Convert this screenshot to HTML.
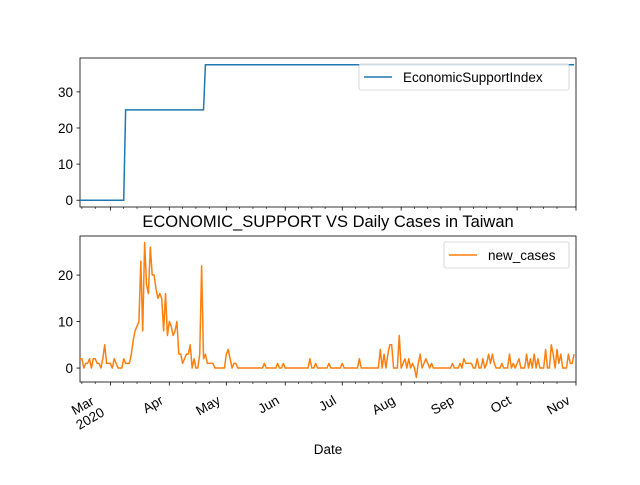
<!DOCTYPE html>
<html><head><meta charset="utf-8"><style>
body{margin:0;background:#fff}
svg text{font-family:"Liberation Sans","DejaVu Sans",sans-serif;fill:#000}
</style></head><body>
<svg id="chart" width="640" height="480" xmlns="http://www.w3.org/2000/svg"></svg>
<script>
const econValues = [[0,0],[23,0],[24,25],[65,25],[66,37.5],[260,37.5]];
const newCases = [2,2,0,1,1,2,0,2,2,1, 1,0,2,5,1,1,1,0,2,1, 0,0,0,2,1,1,1,3,6,8,
9,10,23,8,27,18,16,26,20,20, 17,15,16,15,8,16,7,10,9,7, 8,10,3,3,1,2,3,3,5,0,
2,0,0,3,22,2,3,1,1,1, 1,0,0,0,0,0,0,3,4,2, 0,1,1,0,0,0,0,0,0,0,
0,0,0,0,0,0,0,1,0,0, 0,0,0,0,1,0,0,1,0,0, 0,0,0,0,0,0,0,0,0,0,
0,2,0,0,1,0,0,0,0,0, 0,1,0,0,0,0,0,0,1,0, 0,0,0,0,0,0,0,2,0,0,
0,0,0,0,0,0,0,0,4,0, 3,0,3,5,5,0,0,0,7,0, 1,2,0,2,0,1,0,-2,1,3,
0,1,2,1,0,1,0,0,0,0, 0,0,0,0,0,0,1,0,0,0, 1,0,2,1,1,1,1,0,0,2,
0,0,2,0,1,3,1,3,1,0, 0,0,1,0,0,0,3,0,1,0, 1,2,0,0,0,3,0,2,0,3,
0,2,0,0,0,4,0,0,5,3, 0,4,1,3,0,0,0,3,1,1, 3];
const monthLabels = ["Mar","Apr","May","Jun","Jul","Aug","Sep","Oct","Nov"];
const monthDays = [16,47,77,108,138,169,200,230,261];
const topTicks = [0,10,20,30];
const botTicks = [0,10,20];

const svg = document.getElementById('chart');
const NS = 'http://www.w3.org/2000/svg';
const L=80,R=576,nDays=261;
const x = d => L + d*(R-L)/nDays;
const yTop = v => 207 - (v+1.875)*(149/41.25);
const yBot = v => 382 - (v+3.0)*(146/31.4);
function mk(t,a,p){const e=document.createElementNS(NS,t);for(const k in a)e.setAttribute(k,a[k]);(p||svg).appendChild(e);return e;}

const fTop = mk('rect',{x:L,y:58,width:R-L,height:149,fill:'none',stroke:'#000','stroke-width':0.8});


const fBot = mk('rect',{x:L,y:236,width:R-L,height:146,fill:'none',stroke:'#000','stroke-width':0.8});



topTicks.forEach(v=>{
  mk('line',{x1:L-3.5,x2:L,y1:yTop(v),y2:yTop(v),stroke:'#000','stroke-width':0.8});
  const t=mk('text',{x:L-7,y:yTop(v)+5,'text-anchor':'end','font-size':13.5});t.textContent=v;
  
  
});
botTicks.forEach(v=>{
  mk('line',{x1:L-3.5,x2:L,y1:yBot(v),y2:yBot(v),stroke:'#000','stroke-width':0.8});
  const t=mk('text',{x:L-7,y:yBot(v)+5,'text-anchor':'end','font-size':13.5});t.textContent=v;
  
  
});
// minor ticks on days 8,15,22 of each month
const allStarts=[-13].concat(monthDays);
allStarts.forEach(s=>[7,14,21].forEach(o=>{
  const d=s+o; if(d<0||d>nDays) return;
  [207,382].forEach(yb=>mk('line',{x1:x(d),x2:x(d),y1:yb,y2:yb+2,stroke:'#000','stroke-width':0.6}));
}));
monthDays.forEach((d,i)=>{
  [207,382].forEach(yb=>mk('line',{x1:x(d),x2:x(d),y1:yb,y2:yb+3.5,stroke:'#000','stroke-width':0.8}));
  if(i===0){
    const g=mk('g',{transform:`translate(${x(d)-5},${415}) rotate(-30)`});
    const t=mk('text',{x:-15,y:-15,'text-anchor':'middle','font-size':13.5},g);t.textContent=monthLabels[i];
    
    
    const t2=mk('text',{x:-15,y:0,'text-anchor':'middle','font-size':13.5},g);t2.textContent='2020';
    
    
  } else {
    const g=mk('g',{transform:`translate(${x(d)-5},${403}) rotate(-30)`});
    const t=mk('text',{x:0,y:0,'text-anchor':'end','font-size':13.5},g);t.textContent=monthLabels[i];
    
    
  }
});

const p1=mk('polyline',{points:econValues.map(p=>x(p[0])+','+yTop(p[1])).join(' '),fill:'none',stroke:'#1f77b4','stroke-width':1.5});


const p2=mk('polyline',{points:newCases.map((v,i)=>x(i)+','+yBot(v)).join(' '),fill:'none',stroke:'#ff7f0e','stroke-width':1.5,'stroke-linejoin':'round'});



function legend(x0,y0,w,color,label,name){
  const g=mk('g',{});
  
  
  mk('rect',{x:x0,y:y0,width:w,height:26,rx:2,fill:'#fff','fill-opacity':0.8,stroke:'#ccc','stroke-width':0.8},g);
  mk('line',{x1:x0+5,x2:x0+33,y1:y0+13,y2:y0+13,stroke:color,'stroke-width':1.5},g);
  const t=mk('text',{x:x0+44,y:y0+18,'font-size':13.5},g);t.textContent=label;
}
legend(359,64,210,'#1f77b4','EconomicSupportIndex','legend-economic-support');
legend(444,242,125,'#ff7f0e','new_cases','legend-new-cases');

const ti=mk('text',{x:328,y:227,'text-anchor':'middle','font-size':16.5});ti.textContent='ECONOMIC_SUPPORT VS Daily Cases in Taiwan';


const xl=mk('text',{x:328,y:454,'text-anchor':'middle','font-size':13.5});xl.textContent='Date';


</script>
</body></html>
